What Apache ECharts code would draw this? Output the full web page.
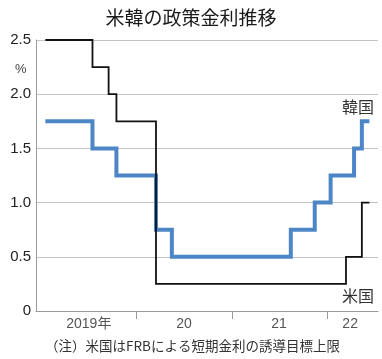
<!DOCTYPE html>
<html><head><meta charset="utf-8">
<script src="https://cdn.jsdelivr.net/npm/echarts@6/dist/echarts.min.js"></script>
<style>html,body{margin:0;padding:0;background:#fff}#c{width:382px;height:359px}</style>
</head><body><div id="c"></div>
<script>
// US policy rate (FRB target upper bound): change dates and values
const usDates  = ['2019-01-15','2019-07-15','2019-09-15','2019-10-15','2020-03-15','2022-03-15','2022-05-15','2022-06-13'];
const usValues = [2.5, 2.25, 2.0, 1.75, 0.25, 0.5, 1.0, 1.0];
// Korea policy rate
const krDates  = ['2019-01-15','2019-07-15','2019-10-15','2020-03-15','2020-05-15','2021-08-15','2021-11-15','2022-01-15','2022-04-15','2022-05-15','2022-06-13'];
const krValues = [1.75, 1.5, 1.25, 0.75, 0.5, 0.75, 1.0, 1.25, 1.5, 1.75, 1.75];
// axis labels
const yearTickDates  = ['2020-01-01','2021-01-01','2022-01-01'];
const yearLabelDates = ['2019-07-01','2020-07-01','2021-07-01','2022-03-31'];
const yearLabels     = ['2019年','20','21','22'];
const yTicks = ['0','0.5','1.0','1.5','2.0','2.5'];

function ts(s){const p=s.split('-').map(Number);return Date.UTC(p[0],p[1]-1,p[2]);}
const us = usDates.map((d,i)=>[ts(d),usValues[i]]);
const kr = krDates.map((d,i)=>[ts(d),krValues[i]]);
const labelTs = yearLabelDates.map(ts);

const chart = echarts.init(document.getElementById('c'),null,{renderer:'canvas'});
const FONT = '"Liberation Sans","Noto Sans CJK JP",sans-serif';
const JP = '"Noto Sans CJK JP",sans-serif';
chart.setOption({
  animation:false,
  backgroundColor:'#fff',
  title:{text:'米韓の政策金利推移',left:'center',top:3,textStyle:{fontFamily:JP,fontSize:19,fontWeight:'normal',color:'#1a1a1a'}},
  grid:{left:36,right:4,top:40,bottom:48},
  xAxis:{
    type:'value',min:ts('2018-12-10'),max:ts('2022-07-16'),
    axisLine:{show:true,lineStyle:{color:'#999',width:1}},
    axisTick:{show:true,customValues:yearTickDates.map(ts),length:8,lineStyle:{color:'#999'}},
    axisLabel:{customValues:labelTs,margin:6,fontFamily:FONT,fontSize:14,color:'#555',
      formatter:function(v){let best=0,bd=Infinity;labelTs.forEach((t,i)=>{const dd=Math.abs(t-v);if(dd<bd){bd=dd;best=i;}});return yearLabels[best];}},
    splitLine:{show:false}
  },
  yAxis:{
    type:'value',min:0,max:2.5,interval:0.5,
    axisLine:{show:true,lineStyle:{color:'#999',width:1}},
    axisTick:{show:false},
    axisLabel:{margin:5,fontFamily:FONT,fontSize:15,color:'#222',formatter:function(v){return yTicks[Math.round(v/0.5)];}},
    splitLine:{show:true,lineStyle:{color:'#c4c4c4',width:1}}
  },
  series:[
    {name:'韓国',type:'line',step:'end',data:kr,symbol:'none',lineStyle:{color:'#4d86c6',width:4,cap:'butt',join:'miter'},z:2},
    {name:'米国',type:'line',step:'end',data:us,symbol:'none',lineStyle:{color:'#111',width:1.8,cap:'butt',join:'miter'},z:3}
  ],
  graphic:[
    {type:'text',left:15,top:63,style:{text:'%',font:'13px '+FONT,fill:'#444'}},
    {type:'text',left:342,top:99,style:{text:'韓国',font:'16px '+JP,fill:'#333'}},
    {type:'text',left:342,top:288,style:{text:'米国',font:'16px '+JP,fill:'#333'}},
    {type:'text',left:45,top:339,style:{text:'（注）米国はFRBによる短期金利の誘導目標上限',font:'13.5px '+JP,fill:'#333'}}
  ]
});
</script></body></html>
